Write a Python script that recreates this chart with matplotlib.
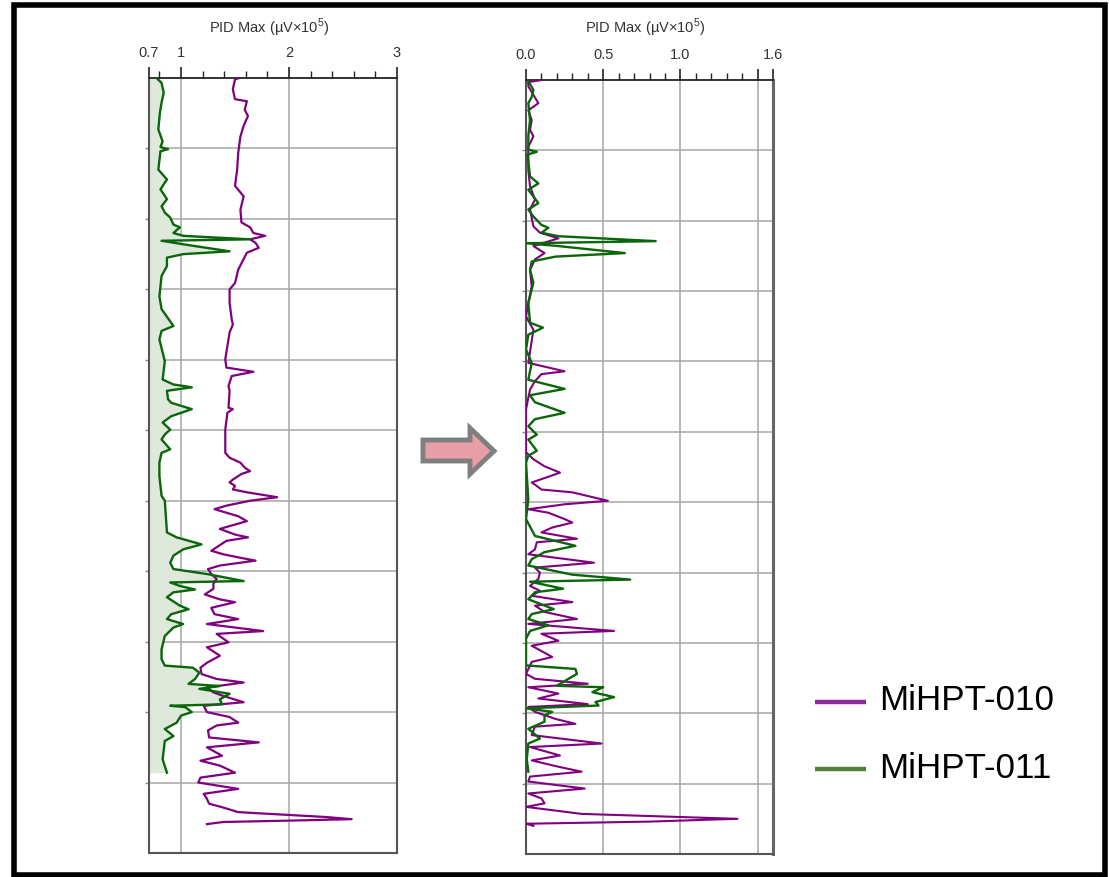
import matplotlib
matplotlib.use('Agg')
import matplotlib.pyplot as plt
from matplotlib.patches import Polygon, Rectangle
from matplotlib.lines import Line2D
from matplotlib.ticker import FixedLocator

plt.rcParams['font.family'] = ['Liberation Sans', 'DejaVu Sans']
plt.rcParams['mathtext.fontset'] = 'custom'
plt.rcParams['mathtext.rm'] = 'Liberation Sans'

# ---------------- data ----------------
series_names = ['MiHPT-010', 'MiHPT-011']
axis_title = 'PID Max (µV×10$^{5}$)'

left_ticks = [0.7, 1, 2, 3]
left_ticklabels = ['0.7', '1', '2', '3']
right_ticks = [0.0, 0.5, 1.0, 1.5, 1.6]
right_ticklabels = ['0.0', '0.5', '1.0', '', '1.6']

# Left panel (raw) - MiHPT-011 (green)
depth_011_raw = [0.00, 0.07, 0.21, 0.35, 0.49, 0.73, 0.90, 0.98, 1.01, 1.04,
                 1.30, 1.44, 1.58, 1.72, 1.82, 1.91, 1.98, 2.08, 2.12, 2.20,
                 2.24, 2.29, 2.31, 2.36, 2.46, 2.50, 2.55, 2.67, 2.81, 3.10,
                 3.28, 3.52, 3.59, 3.71, 4.02, 4.28, 4.35, 4.39, 4.44, 4.56,
                 4.61, 4.70, 4.80, 4.89, 4.99, 5.06, 5.13, 5.27, 5.32, 5.46,
                 5.65, 5.93, 6.00, 6.45, 6.52, 6.62, 6.69, 6.78, 6.88, 6.97,
                 7.04, 7.14, 7.16, 7.21, 7.26, 7.30, 7.37, 7.49, 7.54, 7.61,
                 7.68, 7.75, 7.80, 7.92, 8.11, 8.25, 8.34, 8.37, 8.44, 8.53,
                 8.60, 8.63, 8.67, 8.74, 8.82, 8.89, 8.91, 8.93, 9.00, 9.05,
                 9.15, 9.24, 9.34, 9.41, 9.67, 9.86]
pid_011_raw = [0.775, 0.82, 0.84, 0.82, 0.805, 0.79, 0.83, 0.81, 0.88, 0.81,
               0.79, 0.87, 0.81, 0.87, 0.82, 0.85, 0.90, 0.93, 0.99, 0.93,
               1.02, 1.64, 0.82, 1.02, 1.45, 1.02, 0.87, 0.87, 0.82, 0.80,
               0.82, 0.93, 0.82, 0.80, 0.85, 0.83, 0.93, 1.10, 0.87, 0.88,
               0.91, 1.10, 0.91, 0.83, 0.90, 0.85, 0.82, 0.90, 0.82, 0.80,
               0.80, 0.82, 0.85, 0.87, 0.96, 1.19, 1.02, 0.93, 0.90, 0.93,
               1.24, 1.58, 0.90, 0.99, 1.13, 0.93, 0.87, 0.99, 1.07, 0.91,
               0.87, 1.02, 0.93, 0.85, 0.82, 0.82, 0.85, 1.11, 1.17, 1.13,
               1.07, 1.36, 1.17, 1.45, 1.36, 1.38, 0.90, 1.04, 1.10, 1.00,
               0.96, 0.85, 0.93, 0.85, 0.83, 0.87]

# Left panel (raw) - MiHPT-010 (purple)
depth_010_raw = [0.00, 0.02, 0.16, 0.30, 0.33, 0.45, 0.54, 0.68, 0.83, 1.06,
                 1.30, 1.53, 1.68, 1.87, 2.05, 2.12, 2.20, 2.24, 2.29, 2.34,
                 2.41, 2.48, 2.57, 2.72, 2.91, 3.00, 3.19, 3.43, 3.50, 3.61,
                 3.80, 3.99, 4.11, 4.17, 4.23, 4.37, 4.44, 4.68, 4.70, 4.75,
                 4.99, 5.32, 5.39, 5.46, 5.53, 5.58, 5.62, 5.70, 5.74, 5.79,
                 5.84, 5.88, 5.95, 6.00, 6.07, 6.12, 6.17, 6.22, 6.29, 6.36,
                 6.40, 6.48, 6.52, 6.57, 6.64, 6.71, 6.76, 6.81, 6.85, 6.92,
                 6.97, 7.04, 7.11, 7.18, 7.25, 7.33, 7.40, 7.44, 7.52, 7.61,
                 7.68, 7.75, 7.85, 7.89, 8.01, 8.08, 8.20, 8.30, 8.37, 8.46,
                 8.53, 8.58, 8.65, 8.72, 8.77, 8.86, 8.91, 9.00, 9.07, 9.15,
                 9.19, 9.26, 9.36, 9.43, 9.50, 9.62, 9.69, 9.76, 9.86, 9.93,
                 10.00, 10.09, 10.16, 10.23, 10.30, 10.35, 10.42, 10.49, 10.52, 10.54,
                 10.56, 10.59]
pid_010_raw = [1.54, 1.50, 1.48, 1.50, 1.61, 1.59, 1.62, 1.58, 1.55, 1.53,
               1.52, 1.50, 1.58, 1.55, 1.56, 1.64, 1.67, 1.78, 1.64, 1.69,
               1.72, 1.61, 1.58, 1.53, 1.50, 1.45, 1.45, 1.47, 1.48, 1.45,
               1.43, 1.41, 1.42, 1.67, 1.47, 1.44, 1.45, 1.44, 1.48, 1.43,
               1.41, 1.41, 1.45, 1.55, 1.59, 1.64, 1.56, 1.48, 1.45, 1.50,
               1.48, 1.61, 1.89, 1.64, 1.42, 1.31, 1.42, 1.53, 1.61, 1.45,
               1.36, 1.50, 1.62, 1.42, 1.35, 1.28, 1.39, 1.55, 1.69, 1.36,
               1.25, 1.28, 1.33, 1.30, 1.30, 1.22, 1.36, 1.50, 1.28, 1.31,
               1.53, 1.24, 1.76, 1.33, 1.44, 1.24, 1.36, 1.24, 1.18, 1.19,
               1.33, 1.58, 1.24, 1.30, 1.39, 1.58, 1.21, 1.24, 1.45, 1.53,
               1.33, 1.25, 1.26, 1.72, 1.24, 1.38, 1.18, 1.36, 1.50, 1.18,
               1.16, 1.53, 1.21, 1.24, 1.26, 1.38, 1.53, 2.35, 2.58, 2.01,
               1.39, 1.24]

# Right panel (corrected) - MiHPT-011 (green)
depth_011_cor = [0.02, 0.14, 0.24, 0.33, 0.57, 0.80, 0.99, 1.02, 1.06, 1.37,
                 1.47, 1.56, 1.75, 1.84, 1.94, 2.06, 2.10, 2.17, 2.22, 2.29,
                 2.32, 2.36, 2.46, 2.51, 2.58, 2.70, 2.88, 3.17, 3.45, 3.52,
                 3.62, 3.83, 4.02, 4.26, 4.39, 4.48, 4.58, 4.73, 4.82, 4.92,
                 5.04, 5.11, 5.27, 5.34, 5.44, 5.96, 6.24, 6.48, 6.62, 6.71,
                 6.81, 6.90, 7.03, 7.10, 7.13, 7.23, 7.28, 7.38, 7.52, 7.59,
                 7.66, 7.75, 7.83, 7.94, 8.32, 8.37, 8.44, 8.51, 8.61, 8.63,
                 8.70, 8.77, 8.84, 8.89, 8.93, 8.98, 9.03, 9.12, 9.22, 9.36,
                 9.43, 9.65, 9.83]
pid_011_cor = [0.015, 0.048, 0.037, 0.015, 0.026, 0.015, 0.015, 0.07, 0.01, 0.026,
               0.08, 0.015, 0.08, 0.015, 0.048, 0.10, 0.145, 0.10, 0.21, 0.84,
               0.00, 0.21, 0.64, 0.19, 0.037, 0.026, 0.048, 0.015, 0.026, 0.11,
               0.015, 0.00, 0.037, 0.015, 0.25, 0.026, 0.058, 0.25, 0.058, 0.015,
               0.07, 0.015, 0.07, 0.015, 0.00, 0.015, 0.00, 0.058, 0.32, 0.12,
               0.037, 0.015, 0.30, 0.675, 0.026, 0.24, 0.058, 0.015, 0.18, 0.037,
               0.015, 0.145, 0.026, 0.00, 0.00, 0.32, 0.33, 0.275, 0.20, 0.50,
               0.43, 0.57, 0.45, 0.47, 0.00, 0.17, 0.12, 0.12, 0.015, 0.09,
               0.015, 0.005, 0.015]

# Right panel (corrected) - MiHPT-010 (purple)
depth_010_cor = [0.00, 0.03, 0.09, 0.33, 0.43, 0.57, 0.71, 0.80, 0.95, 1.28,
                 1.51, 1.70, 1.84, 2.08, 2.17, 2.25, 2.36, 2.46, 2.55, 2.70,
                 2.93, 3.17, 3.36, 3.55, 4.02, 4.14, 4.18, 4.28, 4.40, 4.68,
                 5.29, 5.39, 5.49, 5.58, 5.65, 5.72, 5.77, 5.82, 5.86, 5.98,
                 6.03, 6.10, 6.15, 6.24, 6.29, 6.36, 6.43, 6.52, 6.57, 6.67,
                 6.74, 6.86, 6.93, 7.00, 7.09, 7.19, 7.26, 7.33, 7.42, 7.47,
                 7.56, 7.66, 7.73, 7.83, 7.87, 7.97, 8.04, 8.20, 8.27, 8.44,
                 8.51, 8.58, 8.63, 8.72, 8.79, 8.87, 8.91, 8.98, 9.08, 9.15,
                 9.19, 9.31, 9.43, 9.48, 9.60, 9.67, 9.76, 9.83, 9.90, 9.97,
                 10.07, 10.14, 10.21, 10.28, 10.33, 10.43, 10.50, 10.54, 10.57, 10.60]
pid_010_cor = [0.10, 0.015, 0.015, 0.08, 0.015, 0.037, 0.026, 0.048, 0.015, 0.015,
               0.026, 0.058, 0.026, 0.048, 0.09, 0.21, 0.048, 0.12, 0.058, 0.026,
               0.037, 0.015, 0.00, 0.048, 0.015, 0.25, 0.10, 0.058, 0.026, 0.00,
               0.00, 0.048, 0.12, 0.22, 0.13, 0.037, 0.07, 0.10, 0.30, 0.53,
               0.25, 0.015, 0.145, 0.25, 0.30, 0.17, 0.10, 0.33, 0.07, 0.058,
               0.015, 0.44, 0.058, 0.09, 0.08, 0.026, 0.09, 0.037, 0.30, 0.058,
               0.12, 0.33, 0.015, 0.57, 0.10, 0.21, 0.037, 0.17, 0.037, 0.00,
               0.058, 0.40, 0.015, 0.21, 0.08, 0.40, 0.015, 0.058, 0.19, 0.32,
               0.058, 0.037, 0.49, 0.026, 0.22, 0.037, 0.21, 0.36, 0.026, 0.015,
               0.38, 0.015, 0.10, 0.12, 0.00, 0.36, 1.37, 0.79, 0.00, 0.048]

# ---------------- styling ----------------
W, H = 1109, 877
PURPLE = '#800080'
GREEN = '#0a660a'
FILL = '#dfe9db'
GRID = '#a6a6a6'
SPINE = '#555555'

fig = plt.figure(figsize=(W / 100, H / 100), dpi=100)
fig.patch.set_facecolor('white')


def px_axes(x0, y0, x1, y1):
    return fig.add_axes([x0 / W, 1 - y1 / H, (x1 - x0) / W, (y1 - y0) / H])


def style_axes(ax, xlim, majors, majlabels, minors):
    ax.set_xlim(*xlim)
    ax.set_ylim(11, 0)
    ax.xaxis.tick_top()
    ax.xaxis.set_major_locator(FixedLocator(majors))
    ax.set_xticklabels(majlabels)
    ax.xaxis.set_minor_locator(FixedLocator(minors))
    ax.tick_params(axis='x', which='major', direction='out', length=8, width=1.2,
                   color='#222222', labelsize=10.5, labelcolor='#333333', pad=5)
    ax.tick_params(axis='x', which='minor', direction='out', length=5, width=1.0,
                   color='#222222')
    ax.set_yticks(range(1, 11))
    ax.tick_params(axis='y', which='major', direction='out', length=3, width=1,
                   color='#888888', labelleft=False)
    ax.grid(True, which='major', color=GRID, linewidth=1.1)
    ax.set_axisbelow(True)
    for s in ['left', 'right', 'bottom']:
        ax.spines[s].set_color(SPINE)
        ax.spines[s].set_linewidth(1.5)
    ax.spines['top'].set_color('#222222')
    ax.spines['top'].set_linewidth(1.3)
    cx = (ax.get_position().x0 + ax.get_position().x1) / 2
    fig.text(cx - 4 / W, 1 - 28 / H, axis_title, ha='center', va='center',
             fontsize=10.5, color='#333333')


# Left panel (raw data)
axL = px_axes(148.6, 78, 397, 853)
style_axes(axL, (0.7, 3), left_ticks, left_ticklabels,
           [0.8, 1.2, 1.4, 1.6, 1.8, 2.2, 2.4, 2.6, 2.8])
axL.fill_betweenx(depth_011_raw, 0.7, pid_011_raw, color=FILL, linewidth=0, zorder=1.5)
axL.plot(pid_010_raw, depth_010_raw, color=PURPLE, lw=1.6, zorder=3)
axL.plot(pid_011_raw, depth_011_raw, color=GREEN, lw=1.7, zorder=4)

# Right panel (baseline-corrected data)
axR = px_axes(526, 80, 773, 854)
style_axes(axR, (0, 1.6), right_ticks, right_ticklabels,
           [0.1, 0.2, 0.3, 0.4, 0.6, 0.7, 0.8, 0.9, 1.1, 1.2, 1.3, 1.4])
axR.spines['right'].set_linewidth(2.2)
axR.spines['right'].set_color('#666666')
axR.plot(pid_010_cor, depth_010_cor, color=PURPLE, lw=1.5, zorder=3)
axR.plot(pid_011_cor, depth_011_cor, color=GREEN, lw=1.7, zorder=4)

# Arrow between panels
arrow_px = [(423, 440), (470, 440), (470, 428), (494, 451),
            (470, 474), (470, 461), (423, 461)]
arrow = Polygon([(x / W, 1 - y / H) for x, y in arrow_px], closed=True,
                transform=fig.transFigure, facecolor='#e89ea6',
                edgecolor='#7f7f7f', linewidth=3.5, joinstyle='miter')
fig.add_artist(arrow)

# Legend
legend_colors = ['#8b2a9b', '#4e823c']
legend_y = [702, 769]
for name, col, y in zip(series_names, legend_colors, legend_y):
    fig.add_artist(Line2D([815 / W, 866 / W], [1 - y / H, 1 - y / H],
                          transform=fig.transFigure, color=col, linewidth=3.2,
                          solid_capstyle='butt'))
    fig.text(879 / W, 1 - (y - 1) / H, name, ha='left', va='center',
             fontsize=25.2, color='black')

# Outer border
fig.add_artist(Rectangle((14 / W, 1 - 874.5 / H), (1105 - 14) / W, (874.5 - 4.5) / H,
                         transform=fig.transFigure, fill=False,
                         edgecolor='black', linewidth=4))

fig.savefig('out.png', dpi=100, facecolor='white')
